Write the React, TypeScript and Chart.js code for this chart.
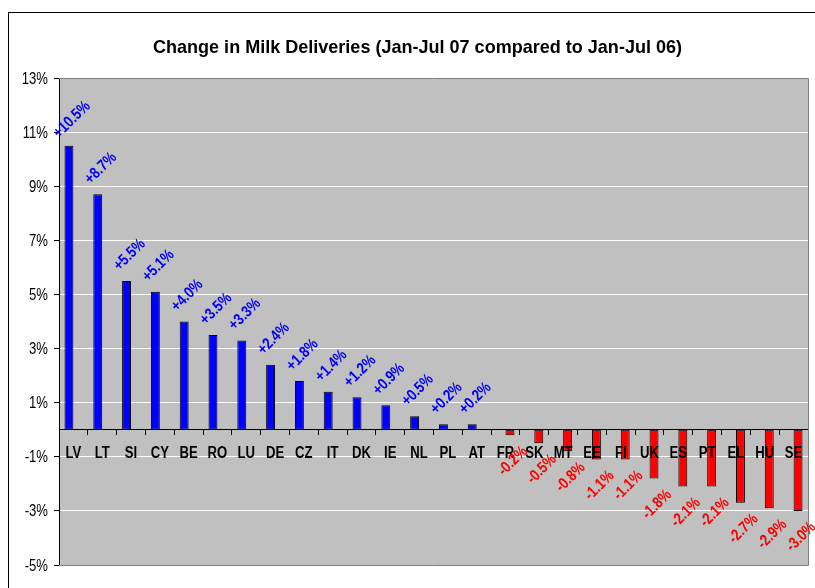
import React, { useEffect, useRef } from "react";
import { Chart, registerables } from "chart.js";

Chart.register(...registerables);

const titleText = "Change in Milk Deliveries (Jan-Jul 07 compared to Jan-Jul 06)";
const categories = ["LV", "LT", "SI", "CY", "BE", "RO", "LU", "DE", "CZ", "IT", "DK", "IE", "NL", "PL", "AT", "FR", "SK", "MT", "EE", "FI", "UK", "ES", "PT", "EL", "HU", "SE"];
const changes = [10.5, 8.7, 5.5, 5.1, 4.0, 3.5, 3.3, 2.4, 1.8, 1.4, 1.2, 0.9, 0.5, 0.2, 0.2, -0.2, -0.5, -0.8, -1.1, -1.1, -1.8, -2.1, -2.1, -2.7, -2.9, -3.0];
const yTicks = [-5, -3, -1, 1, 3, 5, 7, 9, 11, 13];

const FONT = "'Liberation Sans', Arial, sans-serif";
const NARROW_X = 0.82;

function drawNarrow(ctx: any, text: string, x: number, y: number, font: string, align: string, color: string) {
  ctx.save();
  ctx.font = font;
  ctx.fillStyle = color;
  ctx.textAlign = align;
  ctx.textBaseline = "alphabetic";
  ctx.translate(x, y);
  ctx.scale(NARROW_X, 1);
  ctx.fillText(text, 0, 0);
  ctx.restore();
}

const decorPlugin = {
  id: "decor",
  beforeDraw(chart: any) {
    const { ctx, chartArea: a } = chart;
    ctx.save();
    ctx.fillStyle = "#ffffff";
    ctx.fillRect(0, 0, chart.width, chart.height);
    ctx.strokeStyle = "#000000";
    ctx.lineWidth = 1;
    ctx.strokeRect(8.5, 12.5, 1000, 1000);
    ctx.fillStyle = "#C0C0C0";
    ctx.fillRect(a.left, a.top, a.right - a.left, a.bottom - a.top);
    ctx.fillStyle = "#000000";
    ctx.font = "bold 19px " + FONT;
    ctx.textAlign = "center";
    ctx.textBaseline = "alphabetic";
    const w = ctx.measureText(titleText).width;
    const sx = 529 / w;
    ctx.translate(417.5, 53);
    ctx.scale(sx, 1);
    ctx.fillText(titleText, 0, 0);
    ctx.restore();
  },
  beforeDatasetsDraw(chart: any) {
    const { ctx, chartArea: a } = chart;
    ctx.save();
    ctx.strokeStyle = "#808080";
    ctx.lineWidth = 1;
    ctx.beginPath();
    ctx.moveTo(a.left, Math.round(a.top) + 0.5);
    ctx.lineTo(Math.round(a.right) + 0.5, Math.round(a.top) + 0.5);
    ctx.lineTo(Math.round(a.right) + 0.5, Math.round(a.bottom) + 0.5);
    ctx.lineTo(a.left, Math.round(a.bottom) + 0.5);
    ctx.stroke();
    ctx.restore();
  },
  afterDraw(chart: any) {
    const { ctx } = chart;
    const xs = chart.scales.x;
    const ys = chart.scales.y;
    // y tick labels
    yTicks.forEach((v) => {
      drawNarrow(ctx, v + "%", 48, ys.getPixelForValue(v) + 5.5, "16px " + FONT, "right", "#000000");
    });
    // category labels
    const zeroY = ys.getPixelForValue(0);
    categories.forEach((c, i) => {
      drawNarrow(ctx, c, xs.getPixelForValue(i), zeroY + 28, "bold 16px " + FONT, "center", "#000000");
    });
    // data labels
    ctx.save();
    ctx.font = "bold 16px " + FONT;
    ctx.textAlign = "center";
    ctx.textBaseline = "middle";
    chart.data.datasets.forEach((ds: any, di: number) => {
      const meta = chart.getDatasetMeta(di);
      meta.data.forEach((bar: any, i: number) => {
        const v = ds.data[i];
        if (v === null || v === undefined) return;
        const pos = v >= 0;
        const text = (pos ? "+" : "") + v.toFixed(1) + "%";
        ctx.save();
        ctx.translate(bar.x + 3, bar.y + (pos ? -26 : 26));
        ctx.rotate(-Math.PI / 4);
        ctx.scale(NARROW_X, 1);
        ctx.fillStyle = pos ? "#0000FF" : "#FF0000";
        ctx.fillText(text, 0, 0);
        ctx.restore();
      });
    });
    ctx.restore();
  },
};

export default function App() {
  const ref = useRef<HTMLCanvasElement | null>(null);
  useEffect(() => {
    if (!ref.current) return;
    const positive = changes.map((v) => (v >= 0 ? v : null));
    const negative = changes.map((v) => (v < 0 ? v : null));
    const chart = new Chart(ref.current, {
      type: "bar",
      data: {
        labels: categories,
        datasets: [
          {
            data: positive,
            backgroundColor: "#0000FF",
            borderColor: "#000000",
            borderWidth: 1,
            borderSkipped: false,
            categoryPercentage: 0.62,
            barPercentage: 1,
          },
          {
            data: negative,
            backgroundColor: "#FF0000",
            borderColor: "#000000",
            borderWidth: 1,
            borderSkipped: false,
            categoryPercentage: 0.62,
            barPercentage: 1,
          },
        ],
      },
      options: {
        responsive: false,
        animation: false,
        layout: { padding: { top: 78, right: 7, bottom: 23, left: 0 } },
        plugins: {
          legend: { display: false },
          title: { display: false },
          tooltip: { enabled: false },
        },
        scales: {
          x: {
            position: { y: 0 },
            z: 1,
            offset: true,
            grid: {
              display: true,
              drawOnChartArea: false,
              drawTicks: true,
              tickLength: 5,
              color: "#000000",
              offset: true,
            },
            border: { display: true, color: "#000000", width: 1 },
            ticks: { display: false, autoSkip: false },
          },
          y: {
            min: -5,
            max: 13,
            afterFit(scale: any) {
              scale.width = 59;
            },
            afterBuildTicks(scale: any) {
              scale.ticks = yTicks.map((v) => ({ value: v }));
            },
            grid: {
              color: "#ffffff",
              tickColor: "#000000",
              tickLength: 5,
              drawTicks: true,
            },
            border: { display: true, color: "#000000", width: 1 },
            ticks: { display: false },
          },
        },
      },
      plugins: [decorPlugin],
    } as any);
    return () => chart.destroy();
  }, []);
  return (
    <div style={{ position: "fixed", left: 0, top: 0, width: 815, height: 588 }}>
      <canvas ref={ref} width={815} height={588} style={{ width: 815, height: 588, display: "block" }} />
    </div>
  );
}
